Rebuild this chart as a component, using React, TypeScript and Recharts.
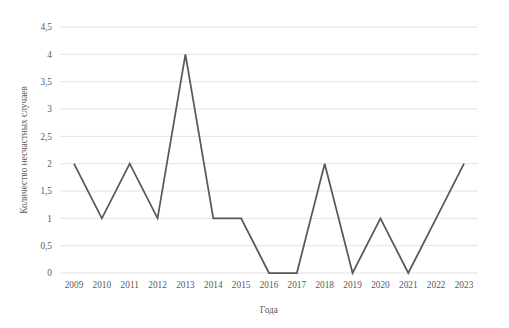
import * as React from 'react';
import { LineChart, Line, XAxis, YAxis, CartesianGrid } from 'recharts';

const YEARS = [
  '2009', '2010', '2011', '2012', '2013', '2014', '2015', '2016',
  '2017', '2018', '2019', '2020', '2021', '2022', '2023',
];
const ACCIDENTS = [2, 1, 2, 1, 4, 1, 1, 0, 0, 2, 0, 1, 0, 1, 2];
const Y_TICKS = [0, 0.5, 1, 1.5, 2, 2.5, 3, 3.5, 4, 4.5];

const X_TITLE = 'Года';
const Y_TITLE = 'Количество несчастных случаев';

const data = YEARS.map((year, i) => ({ year, value: ACCIDENTS[i] }));

const FONT = '"Times New Roman", "Liberation Serif", serif';
const TEXT = '#595959';

export default function App() {
  return (
    <div
      style={{
        position: 'absolute',
        left: 0,
        top: 0,
        width: 509,
        height: 328,
        background: '#fff',
        fontFamily: FONT,
      }}
    >
      <LineChart
        width={509}
        height={328}
        data={data}
        margin={{ top: 27, right: 31, bottom: 10, left: 0 }}
      >
        <CartesianGrid vertical={false} stroke="#e3e3e3" strokeWidth={1} />
        <XAxis
          dataKey="year"
          axisLine={false}
          tickLine={false}
          interval={0}
          height={45}
          padding={{ left: 14, right: 14 }}
          tick={{ fill: TEXT, fontSize: 9.3, fontFamily: FONT }}
          label={{ value: X_TITLE, position: 'insideBottom', offset: 5, fill: TEXT, fontSize: 9.3, fontFamily: FONT }}
        />
        <YAxis
          domain={[0, 4.5]}
          ticks={Y_TICKS}
          axisLine={false}
          tickLine={false}
          width={60}
          tickFormatter={(v: number) => String(v).replace('.', ',')}
          tick={{ fill: TEXT, fontSize: 9.3, fontFamily: FONT }}
          label={{
            value: Y_TITLE,
            angle: -90,
            position: 'insideLeft',
            offset: 24,
            fill: TEXT,
            fontSize: 9.3,
            fontFamily: FONT,
            textAnchor: 'middle',
          }}
        />
        <Line
          type="linear"
          dataKey="value"
          stroke="#595959"
          strokeWidth={1.75}
          dot={false}
          activeDot={false}
          isAnimationActive={false}
        />
      </LineChart>
    </div>
  );
}
